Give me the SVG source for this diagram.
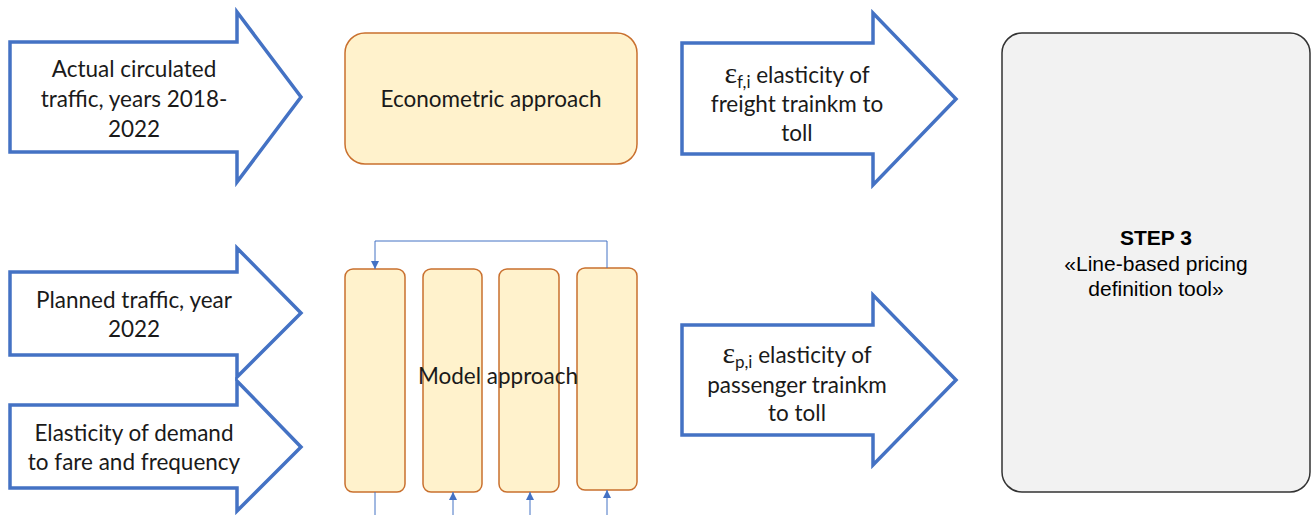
<svg xmlns="http://www.w3.org/2000/svg" width="1312" height="515" viewBox="0 0 1312 515">
<defs>
<style>
.arr{fill:#fff;stroke:#4472C4;stroke-width:3.5;stroke-linejoin:miter}
.box{fill:#FFF2CC;stroke:#C9702E;stroke-width:1.5}
.t{font-family:Lato,"Open Sans",sans-serif;font-size:22.5px;fill:#1a1a1a;text-anchor:middle}
.s{font-family:"Liberation Sans",Arial,sans-serif;font-size:21px;fill:#000;text-anchor:middle}
.con{fill:none;stroke:#4472C4;stroke-width:1}
.eps{font-family:"Liberation Serif",serif;font-size:30px}
.sub{font-size:17px}
</style>
<marker id="ah" viewBox="0 0 10 10" refX="10" refY="5" markerWidth="8" markerHeight="8" markerUnits="userSpaceOnUse" orient="auto">
<path d="M0,0 L10,5 L0,10 z" fill="#4472C4"/>
</marker>
</defs>

<g id="in1">
<path class="arr" d="M10,42 H237 V12 L301,97 L237,182 V152 H10 Z"/>
<text class="t" x="134" y="77">Actual circulated</text>
<text class="t" x="134" y="107">traffic, years 2018-</text>
<text class="t" x="134" y="137">2022</text>
</g>

<g id="in2">
<path class="arr" d="M10,272 H237 V248 L301,313 L237,377 V355 H10 Z"/>
<text class="t" x="134" y="308">Planned traffic, year</text>
<text class="t" x="134" y="337">2022</text>
</g>

<g id="in3">
<path class="arr" d="M10,405 H237 V381 L301,447 L237,511 V488 H10 Z"/>
<text class="t" x="134" y="441">Elasticity of demand</text>
<text class="t" x="134" y="470">to fare and frequency</text>
</g>

<g id="econ">
<rect class="box" x="345" y="33" width="292" height="131" rx="20"/>
<text class="t" x="491" y="107">Econometric approach</text>
</g>

<g id="model">
<rect class="box" x="345" y="269" width="60" height="223" rx="8"/>
<rect class="box" x="423" y="269" width="59" height="223" rx="8"/>
<rect class="box" x="499" y="269" width="60" height="223" rx="8"/>
<rect class="box" x="577" y="268" width="60" height="222" rx="8"/>
</g>

<g id="connectors">
<path class="con" d="M607,268 V241 H375 V269" marker-end="url(#ah)"/>
<path class="con" d="M375,492 V515"/>
<path class="con" d="M453,515 V492" marker-end="url(#ah)"/>
<path class="con" d="M530,515 V492" marker-end="url(#ah)"/>
<path class="con" d="M607,515 V490" marker-end="url(#ah)"/>
</g>

<g id="model-label">
<text class="t" x="498" y="384">Model approach</text>
</g>

<g id="out1">
<path class="arr" d="M682,43 H873 V13 L956,99 L873,185 V154 H682 Z"/>
<text class="t" x="797" y="83"><tspan class="eps">ε</tspan><tspan class="sub" dy="5">f,i</tspan><tspan dy="-5"> elasticity of</tspan></text>
<text class="t" x="797" y="112">freight trainkm to</text>
<text class="t" x="797" y="141">toll</text>
</g>

<g id="out2">
<path class="arr" d="M682,325 H873 V295 L956,380 L873,465 V435 H682 Z"/>
<text class="t" x="797" y="363"><tspan class="eps">ε</tspan><tspan class="sub" dy="5">p,i</tspan><tspan dy="-5"> elasticity of</tspan></text>
<text class="t" x="797" y="393">passenger trainkm</text>
<text class="t" x="797" y="421">to toll</text>
</g>

<g id="step3">
<rect x="1002" y="33" width="308" height="459" rx="20" fill="#F2F2F2" stroke="#333" stroke-width="1.5"/>
<text class="s" x="1156" y="245" font-weight="bold">STEP 3</text>
<text class="s" x="1156" y="271">«Line-based pricing</text>
<text class="s" x="1156" y="296">definition tool»</text>
</g>
</svg>
